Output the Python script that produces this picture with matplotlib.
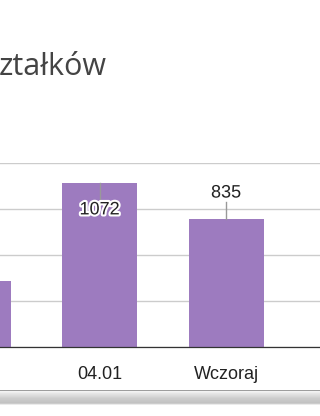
import numpy as np
import matplotlib
matplotlib.use("Agg")
import matplotlib.pyplot as plt
import matplotlib.patheffects as pe

# data
days = ["03.01", "04.01", "Wczoraj", "Dzisiaj"]
counts = [430, 1072, 835, 0]
label_pos = [None, 894, 1004, None]   # where the value labels sit
stem_end = [None, 939, 946, None]
yticks = [0, 300, 600, 900, 1200]

W, H = 320, 416
fig = plt.figure(figsize=(W / 100, H / 100), dpi=100)

bar_col = "#9d7bbf"

# plot area: gridline 1200 at y=163px, baseline at y=347px
ax = fig.add_axes([0, 1 - 347 / H, 1, (347 - 163) / H])
x = np.arange(len(days))
ax.bar(x[:3], counts[:3], width=0.593, color=bar_col, zorder=2)
ax.set_yticks(yticks)
ax.yaxis.grid(True, color="#cccccc", lw=1.0)
ax.set_axisbelow(True)
ax.tick_params(left=False, labelleft=False, bottom=False)
for s in ["top", "left", "right"]:
    ax.spines[s].set_visible(False)
ax.spines["bottom"].set_color("#333333")
ax.spines["bottom"].set_linewidth(0.9)
ax.spines["bottom"].set_zorder(3)
ax.set_xticks(x[:3])
ax.set_xticklabels(days[:3], fontsize=13, color="#222222",
                   fontfamily="Liberation Sans")
ax.tick_params(axis="x", pad=10)
ax.set_xlim(0.2134, 2.743)
ax.set_ylim(0, 1200)

# value labels with stems
for i in range(3):
    if label_pos[i] is None:
        continue
    ax.plot([x[i], x[i]], [counts[i], stem_end[i]], color="#999999",
            lw=1.0, zorder=3, clip_on=False)
    ax.text(x[i], label_pos[i], str(counts[i]), ha="center", va="center",
            fontsize=13, color="#222222", fontfamily="Liberation Sans",
            zorder=4, clip_on=False,
            path_effects=[pe.withStroke(linewidth=3, foreground="white")])

# title (cut off at the left edge)
fig.text(-0.003, 1 - 75 / H, "ztałków", ha="left", va="baseline",
         fontsize=22, color="#444444", fontfamily="Open Sans")

# scrollbar strip at the bottom
sb = fig.add_axes([0, 1 - 405 / H, 1, 15 / H])
grad = np.array([0.62, 0.95, 0.93, 0.90, 0.88, 0.86, 0.84, 0.82, 0.80,
                 0.79, 0.78, 0.77, 0.76, 0.80, 0.92]).reshape(-1, 1)
sb.imshow(grad, cmap="gray", vmin=0, vmax=1, aspect="auto",
          extent=[0, 1, 0, 1], interpolation="nearest")
sb.set_axis_off()

fig.savefig("out.png", dpi=100, facecolor="white")
